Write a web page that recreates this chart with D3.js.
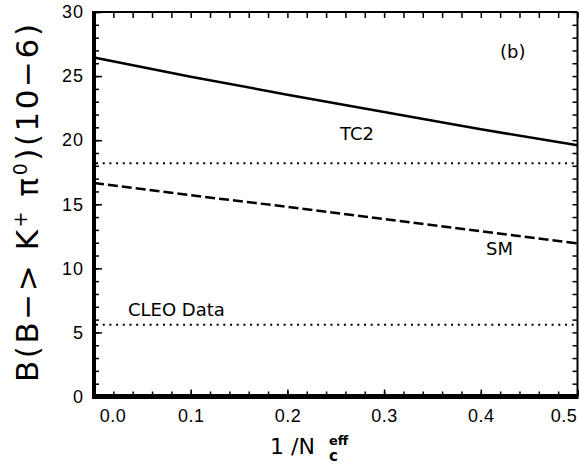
<!DOCTYPE html>
<html lang="en">
<head>
<meta charset="UTF-8">
<title>B -> K+ pi0</title>
<script src="https://cdn.jsdelivr.net/npm/d3@7"></script>
<style>
    body { margin: 0; background: #fff; }
    svg { display: block; font-family: "DejaVu Sans", sans-serif; }
    .tick line { stroke: #000; stroke-width: 1.5; }
    .domain { display: none; }
</style>
</head>
<body>
<svg id="chart" width="579" height="471"></svg>
<script>
// values
let invNc = [0.0, 0.1, 0.2, 0.3, 0.4, 0.5];
let tc2 = [26.45, 24.95, 23.55, 22.2, 20.85, 19.6];
let sm = [16.65, 15.7, 14.8, 13.85, 12.9, 11.95];
let dataLevels = [18.2, 5.6];   // dotted lines
let xTickVals = [0.0, 0.1, 0.2, 0.3, 0.4, 0.5];
let xTickLabels = ["0.0", "0.1", "0.2", "0.3", "0.4", "0.5"];
let yTickVals = [0, 5, 10, 15, 20, 25, 30];

let svg = d3.select("#chart");
let pLeft = 94, pRight = 577.5, pTop = 12, pBottom = 396.5;

let x = d3.scaleLinear().domain([0, 0.5]).range([pLeft, pRight]);
let y = d3.scaleLinear().domain([0, 30]).range([pBottom, pTop]);

// minor ticks
svg.append("g").attr("transform", `translate(${pLeft},0)`)
    .call(d3.axisLeft(y).ticks(30).tickSize(-5).tickFormat(""));
svg.append("g").attr("transform", `translate(${pRight},0)`)
    .call(d3.axisRight(y).ticks(30).tickSize(-5).tickFormat(""));
svg.append("g").attr("transform", `translate(0,${pBottom})`)
    .call(d3.axisBottom(x).ticks(25).tickSize(-5).tickFormat(""));
svg.append("g").attr("transform", `translate(0,${pTop})`)
    .call(d3.axisTop(x).ticks(25).tickSize(-6).tickFormat(""));

// major ticks with labels
let yAx = svg.append("g").attr("transform", `translate(${pLeft},0)`)
    .call(d3.axisLeft(y).tickValues(yTickVals).tickSize(-8).tickPadding(10).tickFormat(d3.format("d")));
yAx.selectAll("text").style("font-size", "18px").style("letter-spacing", "1px").attr("fill", "#000");

let xAx = svg.append("g").attr("transform", `translate(0,${pBottom})`)
    .call(d3.axisBottom(x).tickValues(xTickVals).tickSize(-7).tickPadding(13)
        .tickFormat((d, i) => xTickLabels[i]));
xAx.selectAll("text").style("font-size", "18px").style("letter-spacing", "0.5px").attr("fill", "#000")
    .attr("dx", (d, i) => i === 0 ? 18.5 : (i === xTickVals.length - 1 ? -14 : 0));

// frame
svg.append("line").attr("x1", pLeft).attr("x2", pRight).attr("y1", pTop).attr("y2", pTop)
    .attr("stroke", "#000").attr("stroke-width", 2);
svg.append("line").attr("x1", pRight).attr("x2", pRight).attr("y1", pTop).attr("y2", pBottom)
    .attr("stroke", "#000").attr("stroke-width", 2);
svg.append("line").attr("x1", pLeft).attr("x2", pLeft).attr("y1", pTop - 1).attr("y2", pBottom + 2.5)
    .attr("stroke", "#000").attr("stroke-width", 4);
svg.append("line").attr("x1", pLeft - 2).attr("x2", pRight + 1).attr("y1", pBottom).attr("y2", pBottom)
    .attr("stroke", "#000").attr("stroke-width", 5);

// curves
let line = d3.line().x((d, i) => x(invNc[i])).y(d => y(d));
svg.append("path").datum(tc2).attr("d", line)
    .attr("fill", "none").attr("stroke", "#000").attr("stroke-width", 2.5);
svg.append("path").datum(sm).attr("d", line)
    .attr("fill", "none").attr("stroke", "#000").attr("stroke-width", 2.5)
    .attr("stroke-dasharray", "10,4");

svg.selectAll(".lvl").data(dataLevels).enter().append("line")
    .attr("class", "lvl")
    .attr("x1", x(0) + 2).attr("x2", x(0.5))
    .attr("y1", d => y(d)).attr("y2", d => y(d))
    .attr("stroke", "#000").attr("stroke-width", 2)
    .attr("stroke-dasharray", "2,4.7");

// labels
function label(txt, lx, ly, size) {
    svg.append("text").attr("x", lx).attr("y", ly)
        .style("font-size", size + "px").text(txt);
}
label("(b)", 500, 58, 18);
label("TC2", 340, 140, 18);
label("SM", 486, 255, 18);
label("CLEO Data", 128, 316, 18);

// y title
let yt = svg.append("text")
    .attr("transform", "translate(38,203) rotate(-90)")
    .attr("text-anchor", "middle")
    .attr("textLength", 358)
    .attr("lengthAdjust", "spacing")
    .style("font-size", "31px");
yt.append("tspan").text("B(B\u2212> K");
yt.append("tspan").attr("baseline-shift", "super").style("font-size", "19px").text("+");
yt.append("tspan").text(" \u03c0");
yt.append("tspan").attr("baseline-shift", "super").style("font-size", "19px").text("0");
yt.append("tspan").text(")(10\u22126)");

// x title
svg.append("text").attr("x", 270).attr("y", 454).style("font-size", "22px").text("1 /N");
svg.append("text").attr("x", 329).attr("y", 461).style("font-size", "15px").style("font-weight", "bold").text("c");
svg.append("text").attr("x", 329).attr("y", 445).style("font-size", "13px").style("font-weight", "bold").text("eff");
</script>
</body>
</html>
